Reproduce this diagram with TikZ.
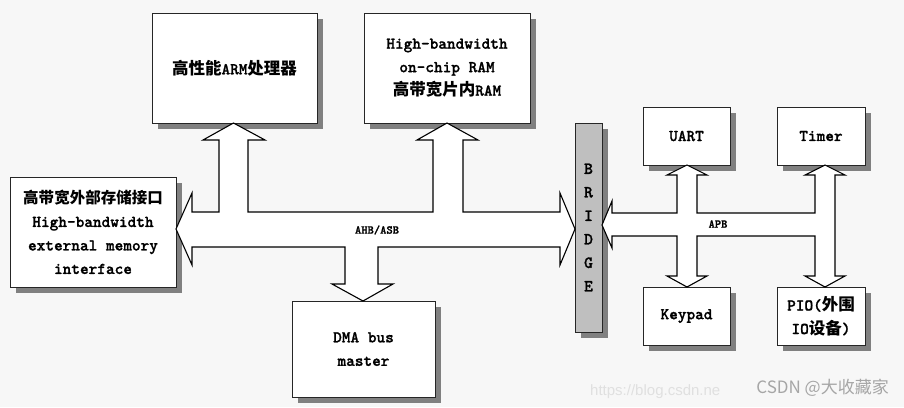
\documentclass[tikz,border=0pt]{standalone}
\usepackage{fontspec}
\setmonofont[FakeBold=1.2]{lmmonolt10-bold.otf}
\newfontfamily\cjk{Noto Sans CJK SC}
\newfontfamily\latsans{Liberation Sans}
\usetikzlibrary{shadows}
\begin{document}
\begin{tikzpicture}[x=1pt,y=-1pt,
  blk/.style={draw=black!85,line width=1pt,fill=white,inner sep=0pt,outer sep=0pt,
    align=center,
    drop shadow={shadow xshift=6pt,shadow yshift=-6pt,fill=black!50,opacity=1}},
  txt/.style={font=\ttfamily\fontsize{16.5}{23.5}\selectfont},
  bus/.style={draw=black,line width=1.1pt,fill=white,line join=miter},
  buslabel/.style={font=\ttfamily\fontsize{12}{12}\selectfont,inner sep=0pt}
]
\useasboundingbox (0,0) rectangle (904,407);
\fill[black!3] (0,0) rectangle (904,407);

% boxes
\node[blk,txt,minimum width=165pt,minimum height=110pt] (arm) at (234.5,68)
  {{\cjk\bfseries 高性能}ARM{\cjk\bfseries 处理器}};
\node[blk,txt,minimum width=166pt,minimum height=110pt] (ram) at (447,68)
  {High-bandwidth\\on-chip RAM\\{\cjk\bfseries 高带宽片内}RAM};
\node[blk,txt,minimum width=166pt,minimum height=110pt] (ext) at (93,232)
  {{\cjk\bfseries\fontsize{15.5}{23.5}\selectfont 高带宽外部存储接口}\\High-bandwidth\\external memory\\interface};
\node[blk,txt,minimum width=143pt,minimum height=96pt] (dma) at (363.5,349)
  {DMA bus\\master};
\node[blk,fill=black!25,minimum width=27pt,minimum height=209pt,
  font=\ttfamily\fontsize{17}{23.5}\selectfont] (bridge) at (588.5,227.5)
  {B\\R\\I\\D\\G\\E};
\node[blk,txt,minimum width=87pt,minimum height=58pt] (uart) at (686.5,136) {UART};
\node[blk,txt,minimum width=88pt,minimum height=58pt] (timer) at (821,136) {Timer};
\node[blk,txt,minimum width=87pt,minimum height=58pt] (keypad) at (686.5,316) {Keypad};
\node[blk,txt,minimum width=88pt,minimum height=58pt] (pio) at (821,316)
  {PIO({\cjk\bfseries 外围}\\IO{\cjk\bfseries 设备})};

% AHB/ASB bus
\draw[bus] (176,229) -- (192,193) -- (192,212) -- (219,212) -- (219,140) -- (203,140)
  -- (233.5,123) -- (265,140) -- (248,140) -- (248,212) -- (433,212) -- (433,140)
  -- (417,140) -- (447,123) -- (478,140) -- (463,140) -- (463,212) -- (560,212)
  -- (560,193) -- (575,229) -- (560,265) -- (560,247) -- (378,247) -- (378,284)
  -- (393,284) -- (363,301) -- (332,284) -- (345,284) -- (345,247) -- (192,247)
  -- (192,265) -- cycle;
\node[buslabel] (ahb) at (377,230) {AHB/ASB};

% APB bus
\draw[bus] (602,225) -- (612,201) -- (612,213) -- (677,213) -- (677,175) -- (667,175)
  -- (687,165) -- (707,175) -- (697,175) -- (697,213) -- (815,213) -- (815,175)
  -- (805,175) -- (825,165) -- (845,175) -- (835,175) -- (835,276) -- (845,276)
  -- (825,287) -- (805,276) -- (815,276) -- (815,236) -- (697,236) -- (697,276)
  -- (707,276) -- (687,287) -- (667,276) -- (677,276) -- (677,236) -- (612,236)
  -- (612,248) -- cycle;
\node[buslabel] (apb) at (718,224) {APB};

% watermark
\node[text=black!12,font=\latsans\fontsize{15}{16}\selectfont,anchor=west,inner sep=0pt] (url) at (590,392)
  {https://blog.csdn.ne};
\node[text=black!35,font=\cjk\fontsize{17}{18}\selectfont,anchor=east,inner sep=0pt] (wm) at (889,388)
  {CSDN @大收藏家};
\end{tikzpicture}
\end{document}
